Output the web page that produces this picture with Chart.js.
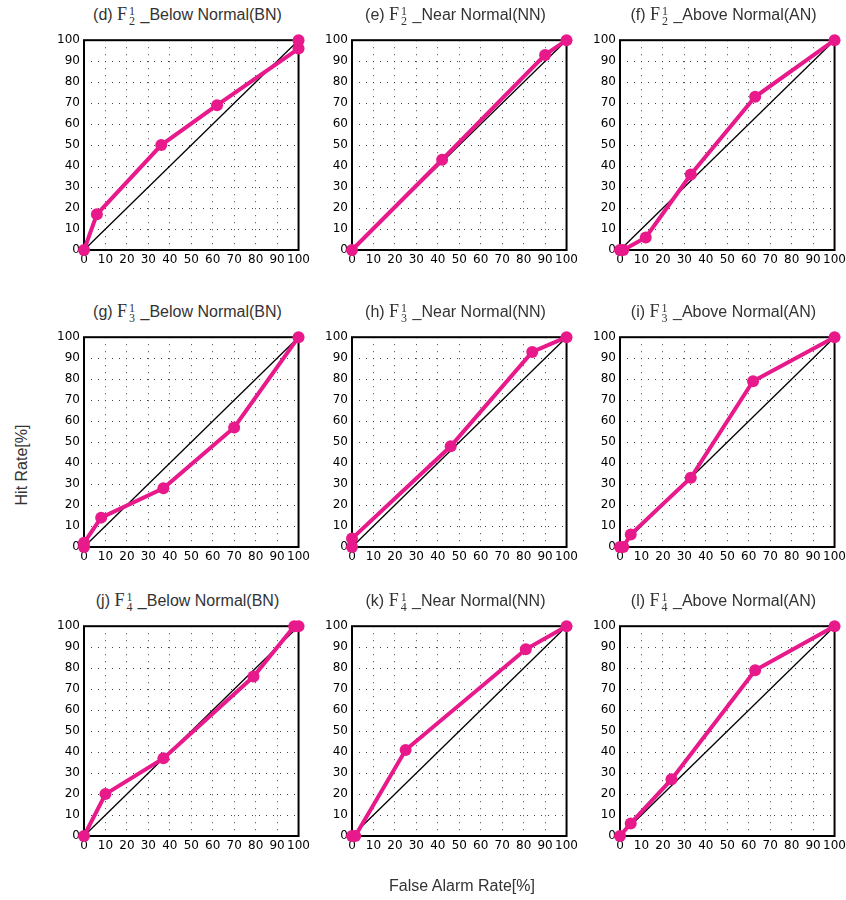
<!DOCTYPE html>
<html><head><meta charset="utf-8">
<script src="https://cdn.jsdelivr.net/npm/chart.js@4.4.0/dist/chart.umd.min.js"></script>
<style>
body{margin:0;background:#fff;width:846px;height:900px;position:relative;overflow:hidden;font-family:"Liberation Sans",Arial,sans-serif;}
canvas{position:absolute;}
.title{position:absolute;width:280px;text-align:center;font-size:16px;line-height:22px;color:#333;white-space:nowrap;}
.F{font-family:"Liberation Serif","DejaVu Serif",serif;font-size:18px;}
.st{display:inline-block;vertical-align:middle;font-family:"Liberation Serif",serif;font-size:12px;line-height:10px;text-align:center;margin:0 1px 0 2px;}
.st span{display:block;}
.axlab{position:absolute;font-size:16px;color:#333;white-space:nowrap;}
</style></head>
<body>
<script>
// ---- data (False Alarm Rate %, Hit Rate %) ----
const tickValues = [0,10,20,30,40,50,60,70,80,90,100];
const panelLetters = ['d','e','f','g','h','i','j','k','l'];
const leadSubs = ['2','2','2','3','3','3','4','4','4'];
const categories = ['Below Normal(BN)','Near Normal(NN)','Above Normal(AN)'];

const farD = [0, 6, 36, 62, 100, 100];
const hitD = [0, 17, 50, 69, 96, 100];
const farE = [0, 42, 90, 100];
const hitE = [0, 43, 93, 100];
const farF = [0, 1.5, 12, 33, 63, 100];
const hitF = [0, 0, 6, 36, 73, 100];
const farG = [0, 0, 8, 37, 70, 100];
const hitG = [0, 2, 14, 28, 57, 100];
const farH = [0, 0, 46, 84, 100];
const hitH = [0, 4, 48, 93, 100];
const farI = [0, 1.5, 5, 33, 62, 100];
const hitI = [0, 0, 6, 33, 79, 100];
const farJ = [0, 10, 37, 79, 98, 100];
const hitJ = [0, 20, 37, 76, 100, 100];
const farK = [0, 1.5, 25, 81, 100];
const hitK = [0, 0, 41, 89, 100];
const farL = [0, 5, 24, 63, 100];
const hitL = [0, 6, 27, 79, 100];
const diagX = [0, 100];
const diagY = [0, 100];

const farAll = [farD, farE, farF, farG, farH, farI, farJ, farK, farL];
const hitAll = [hitD, hitE, hitF, hitG, hitH, hitI, hitJ, hitK, hitL];

// ---- layout ----
const plotLefts = [84, 352, 620];
const plotTops = [35, 332, 621];
const plotSize = 215;
const padL = 40, padT = 6, padR = 14, padB = 22;
const pink = '#e8198b';

const framePlugin = {
  id: 'frame',
  beforeDatasetsDraw(chart) {
    const {ctx, chartArea: a} = chart;
    ctx.save();
    ctx.strokeStyle = '#000';
    ctx.lineWidth = 2;
    ctx.strokeRect(a.left, a.top, a.right - a.left, a.bottom - a.top);
    ctx.restore();
  }
};

for (let i = 0; i < 9; i++) {
  const r = Math.floor(i / 3), c = i % 3;
  const pl = plotLefts[c], pt = plotTops[r];
  const cv = document.createElement('canvas');
  const w = plotSize + padL + padR, h = plotSize + padT + padB;
  cv.width = w; cv.height = h;
  cv.style.left = (pl - padL) + 'px';
  cv.style.top = (pt - padT) + 'px';
  cv.style.width = w + 'px'; cv.style.height = h + 'px';
  document.body.appendChild(cv);

  const t = document.createElement('div');
  t.className = 'title';
  t.style.left = (pl + plotSize / 2 - 140 - 4) + 'px';
  t.style.top = (pt - 32) + 'px';
  t.innerHTML = '(' + panelLetters[i] + ') <span class="F">F</span><span class="st"><span>1</span><span>' + leadSubs[i] + '</span></span> _' + categories[c];
  document.body.appendChild(t);

  const pts = farAll[i].map((x, k) => ({x: x, y: hitAll[i][k]}));
  const diag = diagX.map((x, k) => ({x: x, y: diagY[k]}));

  new Chart(cv, {
    type: 'scatter',
    data: {
      datasets: [
        {data: diag, showLine: true, borderColor: '#000', borderWidth: 1.3, pointRadius: 0, order: 2, clip: false},
        {data: pts, showLine: true, borderColor: pink, backgroundColor: pink, borderWidth: 4,
         pointRadius: 6, pointBorderWidth: 0, pointStyle: 'circle', order: 1, clip: false}
      ]
    },
    options: {
      responsive: false,
      animation: false,
      devicePixelRatio: 1,
      layout: {autoPadding: false, padding: {left: 0, top: padT, right: padR, bottom: 0}},
      plugins: {legend: {display: false}, tooltip: {enabled: false}},
      scales: {
        x: {
          type: 'linear', min: 0, max: 100,
          afterFit(s) { s.height = padB; },
          afterBuildTicks(s) { s.ticks = tickValues.map(v => ({value: v})); },
          ticks: {autoSkip: false, maxRotation: 0, padding: 3, color: '#000',
                  font: {family: 'DejaVu Sans', size: 12}},
          grid: {color: '#444', lineWidth: 1, drawTicks: false},
          border: {display: false, dash: [1, 6]}
        },
        y: {
          type: 'linear', min: 0, max: 100,
          afterFit(s) { s.width = padL; },
          afterBuildTicks(s) { s.ticks = tickValues.map(v => ({value: v})); },
          ticks: {autoSkip: false, padding: 4, color: '#000',
                  font: {family: 'DejaVu Sans', size: 12}},
          grid: {color: '#444', lineWidth: 1, drawTicks: false},
          border: {display: false, dash: [1, 6]}
        }
      }
    },
    plugins: [framePlugin]
  });
}

const yl = document.createElement('div');
yl.className = 'axlab';
yl.textContent = 'Hit Rate[%]';
yl.style.left = '22px'; yl.style.top = '465px';
yl.style.transform = 'translate(-50%,-50%) rotate(-90deg)';
document.body.appendChild(yl);

const xl = document.createElement('div');
xl.className = 'axlab';
xl.textContent = 'False Alarm Rate[%]';
xl.style.left = '462px'; xl.style.top = '886px';
xl.style.transform = 'translate(-50%,-50%)';
document.body.appendChild(xl);
</script>
</body></html>
